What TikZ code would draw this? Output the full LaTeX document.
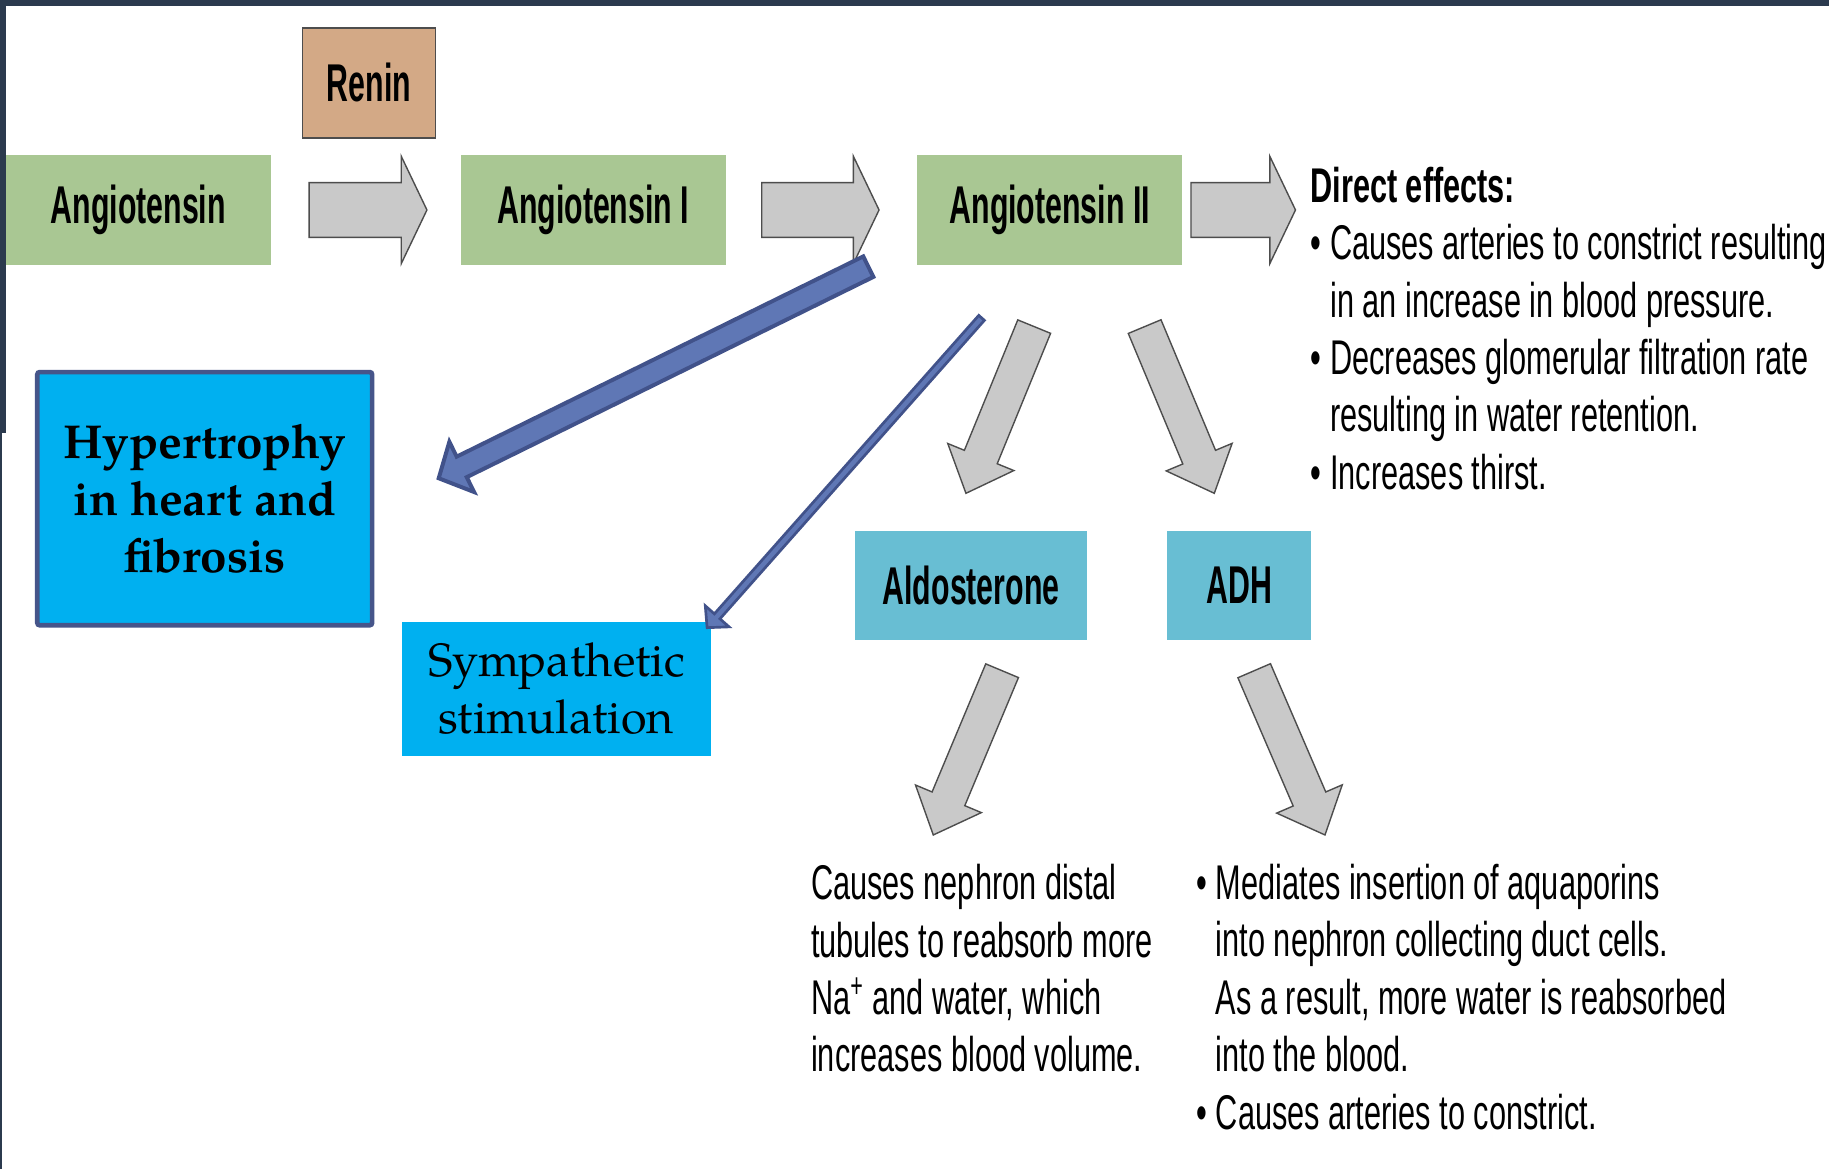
\documentclass[tikz,border=0pt]{standalone}
\usepackage{fontspec}
\setmainfont[FakeStretch=0.63]{Liberation Sans}
\newfontfamily\boxfont[FakeStretch=0.57]{Liberation Sans}
\newfontfamily\palfont{TeX Gyre Pagella}
\usetikzlibrary{calc, positioning}

\definecolor{slide}{HTML}{2B3A4E}
\definecolor{angiogreen}{HTML}{A9C793}
\definecolor{renintan}{HTML}{D3A986}
\definecolor{hormoneblue}{HTML}{68BED3}
\definecolor{effectcyan}{HTML}{00B0F0}
\definecolor{effectrim}{HTML}{46558A}
\definecolor{bluefill}{HTML}{5F77B5}
\definecolor{blueedge}{HTML}{41528A}
\definecolor{grayfill}{HTML}{C9C9C9}
\definecolor{grayedge}{HTML}{4D4D4D}

\newcommand{\bulitem}{\makebox[8.5pt][l]{\textbullet}}
\newcommand{\bulletpad}{\hspace*{8.5pt}}

% block arrow: style, tail, tip, body half width, head half width, head length
\newcommand{\fatarrow}[6]{%
  \coordinate (hb) at ($(#3)!#6!(#2)$);
  \draw[#1] ($(#2)!#4!90:(#3)$) -- ($(hb)!#4!90:(#3)$) -- ($(hb)!#5!90:(#3)$) -- (#3)
    -- ($(hb)!#5!-90:(#3)$) -- ($(hb)!#4!-90:(#3)$) -- ($(#2)!#4!-90:(#3)$) -- cycle;
}

\tikzset{
  greenbox/.style={fill=angiogreen, minimum width=113.5pt, minimum height=47pt, inner sep=0pt, font=\boxfont\bfseries\fontsize{22.8}{26}\selectfont},
  hormone/.style={fill=hormoneblue, minimum height=47pt, inner sep=0pt, font=\boxfont\bfseries\fontsize{22.8}{26}\selectfont},
  effectbox/.style={fill=effectcyan, align=center, inner sep=0pt, font=\palfont\fontsize{20}{24.6}\selectfont},
  bodytext/.style={align=left, inner sep=0pt, font=\fontsize{20.9}{24.6}\selectfont},
  grayarrow/.style={fill=grayfill, draw=grayedge, line width=0.6pt, line join=miter},
  bluearrow/.style={fill=bluefill, draw=blueedge, line width=1.7pt, line join=miter}
}

\begin{document}
\begin{tikzpicture}[x=0.5pt, y=-0.5pt]
  \fill[white] (0, 0) rectangle (1568, 1002);
  \useasboundingbox (0, 0) rectangle (1568, 1002);
  \fill[slide] (0, 0) rectangle (1568, 5);
  \fill[slide] (0, 0) rectangle (5, 371);
  \fill[slide] (0, 371) rectangle (2, 1002);

  \coordinate (s1) at (265, 180);
  \coordinate (e1) at (366, 180);
  \coordinate (s2) at (653, 180);
  \coordinate (e2) at (753.6, 180);
  \coordinate (s3) at (1021, 180);
  \coordinate (e3) at (1110.6, 180);
  \coordinate (s4) at (886.6, 280);
  \coordinate (e4) at (828.1, 422.9);
  \coordinate (s5) at (981.3, 280);
  \coordinate (e5) at (1041, 422.9);
  \coordinate (s6) at (859.1, 575);
  \coordinate (e6) at (800.1, 715.8);
  \coordinate (s7) at (1075.2, 575);
  \coordinate (e7) at (1135.9, 715.8);
  \coordinate (s8) at (744.4, 228.6);
  \coordinate (e8) at (376.1, 410);
  \coordinate (s9) at (841.5, 272.5);
  \coordinate (e9) at (606.2, 538.1);

  \fatarrow{grayarrow}{s1}{e1}{11.75pt}{23pt}{11pt}
  \fatarrow{grayarrow}{s2}{e2}{11.75pt}{23pt}{11pt}
  \fatarrow{grayarrow}{s3}{e3}{11.75pt}{23pt}{11pt}
  \fatarrow{grayarrow}{s4}{e4}{7.6pt}{15.3pt}{16.8pt}
  \fatarrow{grayarrow}{s5}{e5}{7.6pt}{15.3pt}{16.8pt}
  \fatarrow{grayarrow}{s6}{e6}{7.6pt}{15.3pt}{16.8pt}
  \fatarrow{grayarrow}{s7}{e7}{7.6pt}{15.3pt}{16.8pt}

  \node[greenbox] (ang) at (118.5, 180) {Angiotensin};
  \node[greenbox] (ang1) at (508.5, 180) {Angiotensin I};
  \node[greenbox] (ang2) at (900, 180) {Angiotensin II};
  \node[greenbox, fill=renintan, draw=grayedge, line width=0.8pt, minimum width=57pt] (renin) at (316.3, 71) {Renin};
  \node[hormone, minimum width=99.5pt] (aldo) at (832.5, 502) {Aldosterone};
  \node[hormone, minimum width=62pt] (adh) at (1062.3, 502) {ADH};

  \node[effectbox, draw=effectrim, line width=2pt, rounded corners=1pt, minimum width=143.5pt, minimum height=108.5pt, font=\palfont\bfseries\fontsize{20.4}{24.6}\selectfont] (hyper) at (175.5, 427.5) {Hypertrophy\\in heart and\\fibrosis};
  \node[effectbox, minimum width=132.5pt, minimum height=57.5pt] (symp) at (477, 590.5) {Sympathetic\\stimulation};

  \node[bodytext, anchor=base west] (direct) at (1123, 419.5) {\textbf{Direct effects:}\\
    \bulitem Causes arteries to constrict resulting\\
    \bulletpad in an increase in blood pressure.\\
    \bulitem Decreases glomerular filtration rate\\
    \bulletpad resulting in water retention.\\
    \bulitem Increases thirst.};
  \node[bodytext, anchor=base west] (aldotext) at (695, 919) {Causes nephron distal\\
    tubules to reabsorb more\\
    Na\textsuperscript{+} and water, which\\
    increases blood volume.};
  \node[bodytext, anchor=base west] (adhtext) at (1025, 968) {\bulitem Mediates insertion of aquaporins\\
    \bulletpad into nephron collecting duct cells.\\
    \bulletpad As a result, more water is reabsorbed\\
    \bulletpad into the blood.\\
    \bulitem Causes arteries to constrict.};

  \fatarrow{bluearrow}{s8}{e8}{4.9pt}{12pt}{11pt}
  \fatarrow{bluearrow, line width=1.15pt}{s9}{e9}{1.6pt}{6.8pt}{6.5pt}
\end{tikzpicture}
\end{document}
